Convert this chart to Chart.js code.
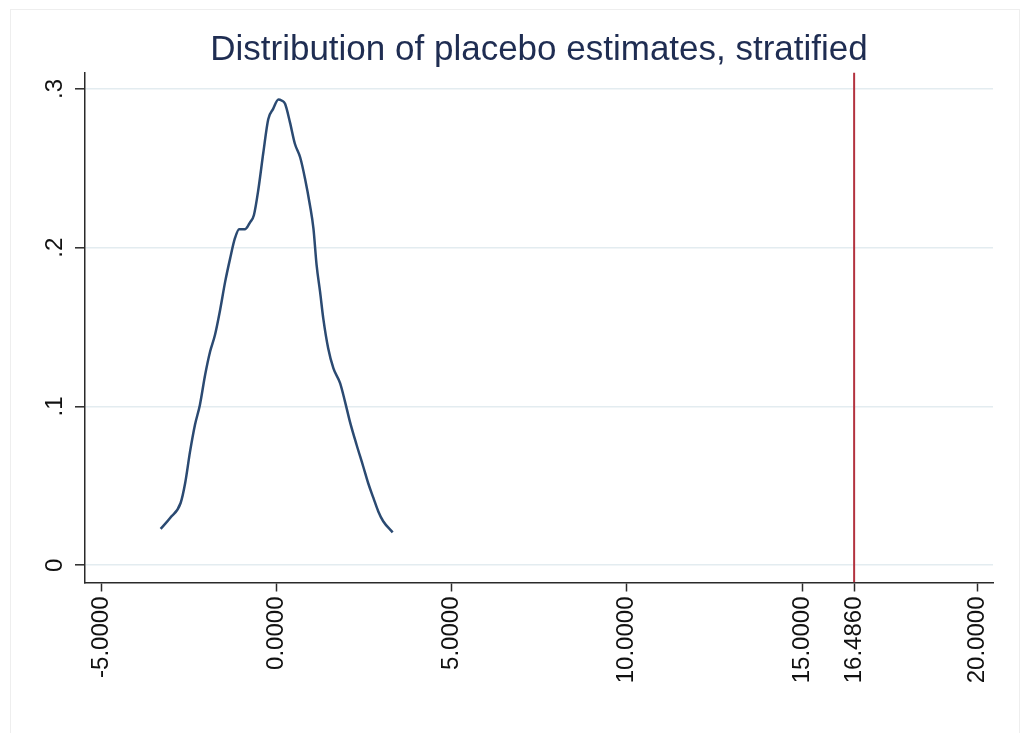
<!DOCTYPE html>
<html>
<head>
<meta charset="utf-8">
<title>Distribution of placebo estimates, stratified</title>
<script src="https://cdn.jsdelivr.net/npm/chart.js@4/dist/chart.umd.min.js"></script>
<style>
  html, body { margin: 0; padding: 0; background: #ffffff; }
  #wrap { width: 1026px; height: 733px; }
</style>
</head>
<body>
<div id="wrap"><canvas id="chart" width="1026" height="733"></canvas></div>
<script>
// Kernel density of the placebo estimates (x = estimate, y = density)
const estimateX = [-3.30, -3.03, -2.73, -2.60, -2.46, -2.32, -2.18, -2.03, -1.89, -1.75,
                   -1.61, -1.46, -1.32, -1.18, -1.06, -0.89, -0.75, -0.64, -0.51, -0.37,
                   -0.23, -0.09, 0.06, 0.15, 0.25, 0.39, 0.53, 0.68, 0.82, 0.96,
                   1.06, 1.15, 1.25, 1.34, 1.48, 1.63, 1.82, 1.96, 2.10, 2.29,
                   2.48, 2.62, 2.77, 2.91, 3.05, 3.32];
const densityY = [0.0229, 0.0298, 0.0392, 0.0518, 0.0717, 0.0885, 0.101, 0.120, 0.1345, 0.145,
                  0.160, 0.1785, 0.193, 0.206, 0.2117, 0.2117, 0.216, 0.2205, 0.237, 0.260,
                  0.281, 0.2875, 0.2934, 0.2928, 0.2907, 0.279, 0.2655, 0.257, 0.2435, 0.2268,
                  0.212, 0.189, 0.172, 0.1555, 0.1367, 0.124, 0.1147, 0.1031, 0.0905, 0.0759,
                  0.0622, 0.0518, 0.0424, 0.0339, 0.0277, 0.0207];

// Actual estimate, marked with a vertical line
const actualEstimate = 16.486;

// Axis ticks
const xTickValues = [-5, 0, 5, 10, 15, actualEstimate, 20];
const yTickValues = [0, 0.1, 0.2, 0.3];
const yTickLabels = ['0', '.1', '.2', '.3'];

// Axis ranges
const xRange = [-5.458, 20.448];
const yRange = [-0.01088, 0.3104];

const titleText = 'Distribution of placebo estimates, stratified';

const FONT = '"Liberation Sans", Arial, Helvetica, sans-serif';
const AXIS_COLOR = '#2a2a2a';

const densityPoints = estimateX.map((x, i) => ({ x: x, y: densityY[i] }));
const markerPoints = [{ x: actualEstimate, y: yRange[0] }, { x: actualEstimate, y: yRange[1] }];

// light outer frame around the whole graph region
const outerFrame = {
  id: 'outerFrame',
  beforeDraw(chart) {
    const ctx = chart.ctx;
    ctx.save();
    ctx.fillStyle = '#ffffff';
    ctx.fillRect(0, 0, chart.width, chart.height);
    ctx.strokeStyle = '#eeeeee';
    ctx.lineWidth = 1;
    ctx.strokeRect(10.5, 9.5, 1009, 760);
    ctx.restore();
  }
};

new Chart(document.getElementById('chart'), {
  type: 'scatter',
  data: {
    datasets: [
      {
        label: 'density',
        data: densityPoints,
        showLine: true,
        borderColor: '#2b4a72',
        borderWidth: 2.5,
        pointRadius: 0,
        cubicInterpolationMode: 'monotone',
        fill: false,
        order: 2
      },
      {
        label: 'estimate',
        data: markerPoints,
        showLine: true,
        borderColor: '#b3323f',
        borderWidth: 2,
        pointRadius: 0,
        fill: false,
        order: 1
      }
    ]
  },
  options: {
    responsive: false,
    animation: false,
    events: [],
    layout: { padding: { left: 0, right: 33, top: 0, bottom: 0 } },
    plugins: {
      legend: { display: false },
      tooltip: { enabled: false },
      title: {
        display: true,
        text: titleText,
        fullSize: false,
        color: '#1f2d52',
        font: { family: FONT, size: 35, weight: 'normal', lineHeight: 1.2 },
        padding: { top: 29, bottom: 1.5 }
      }
    },
    scales: {
      x: {
        type: 'linear',
        min: xRange[0],
        max: xRange[1],
        afterBuildTicks(scale) { scale.ticks = xTickValues.map(v => ({ value: v })); },
        afterFit(scale) { scale.height = 150.5; },
        border: { display: true, color: AXIS_COLOR, width: 1.5 },
        grid: {
          drawOnChartArea: false,
          drawTicks: true,
          tickLength: 9,
          tickColor: AXIS_COLOR,
          tickWidth: 1.5
        },
        ticks: {
          autoSkip: false,
          minRotation: 90,
          maxRotation: 90,
          padding: 5,
          color: '#111111',
          font: { family: FONT, size: 24 },
          callback: (v) => Number(v).toFixed(4)
        }
      },
      y: {
        type: 'linear',
        min: yRange[0],
        max: yRange[1],
        afterBuildTicks(scale) { scale.ticks = yTickValues.map(v => ({ value: v })); },
        afterFit(scale) { scale.width = 85; },
        border: { display: true, color: AXIS_COLOR, width: 1.5 },
        grid: {
          drawOnChartArea: true,
          color: '#e3ecf0',
          lineWidth: 1.6,
          drawTicks: true,
          tickLength: 10,
          tickColor: AXIS_COLOR,
          tickWidth: 1.5
        },
        ticks: {
          autoSkip: false,
          minRotation: 90,
          maxRotation: 90,
          crossAlign: 'center',
          padding: 10,
          color: '#111111',
          font: { family: FONT, size: 24 },
          callback: (v, i) => yTickLabels[i]
        }
      }
    }
  },
  plugins: [outerFrame]
});
</script>
</body>
</html>
